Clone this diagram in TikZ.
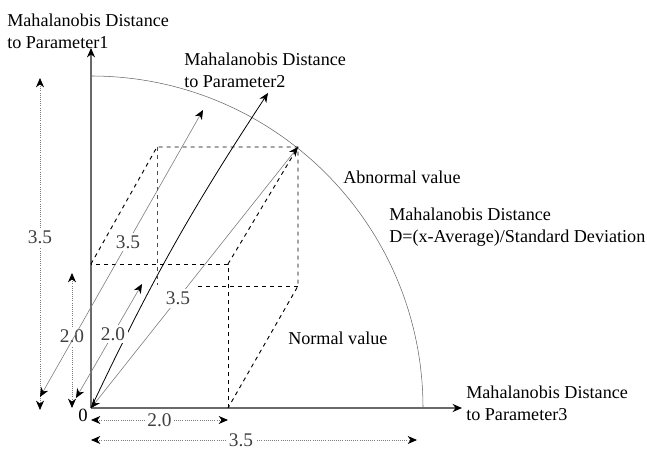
\documentclass[tikz,border=0pt]{standalone}
\usepackage{fontspec}
\setmainfont{Liberation Serif}
\usetikzlibrary{arrows.meta}
\definecolor{axisgray}{RGB}{105,105,105}
\definecolor{dimgray}{RGB}{125,125,125}

\begin{document}
\begin{tikzpicture}[x=0.75pt,y=0.75pt,
  font=\fontsize{13.6}{16.5}\selectfont,
  >={Stealth[length=7pt,width=6pt,inset=2.2pt]},
  axis/.style={line width=1.1pt,color=axisgray,->,>={Stealth[length=7pt,width=6pt,inset=2.2pt,color=black]}},
  boxedge/.style={dashed,line width=0.7pt},
  dimline/.style={densely dotted,color=dimgray,line width=0.6pt,<->,>={Stealth[length=7pt,width=6pt,inset=2.2pt,color=black]}},
  diagdim/.style={color=dimgray,line width=0.45pt,<->,>={Stealth[length=7pt,width=6pt,inset=2.2pt,color=black]}},
  dimlabel/.style={fill=white,inner sep=2pt,font=\fontsize{14.5}{16}\selectfont,text=black!75},
  lbl/.style={align=left,anchor=west,inner sep=0pt}]

\useasboundingbox (0,0) rectangle (647,450);

%%%%%%%%%% points
\coordinate (O) at (91,42);
\coordinate (P1) at (91,402);
\coordinate (P2) at (268,357);
\coordinate (P3) at (462,42);
\coordinate (arcT) at (91,374);
% box corners
\coordinate (fbr) at (228,42);
\coordinate (ftr) at (228,186);
\coordinate (ftl) at (91,186);
\coordinate (btl) at (157,303);
\coordinate (btr) at (298,303);
\coordinate (bbr) at (298,164);
\coordinate (bbl) at (157,165);
\coordinate (bbm) at (198,164);

%%%%%%%%%% axes and sphere
\draw[thin,black!60] (arcT) arc[start angle=90,end angle=0,radius=332];
\draw[axis] (O) -- (P1);
\draw[axis] (O) -- (P3);
\draw[line width=0.6pt,->] (O) to[bend left=4] (P2);
\node (zero) at (83,35) {\fontsize{14}{16}\selectfont 0};

%%%%%%%%%% normal value box
\draw[boxedge] (fbr) -- (ftr) -- (ftl);
\draw[boxedge] (ftl) -- (btl) -- (btr) -- (bbr) -- (fbr);
\draw[boxedge] (ftr) -- (btr);
\draw[boxedge,black!70] (btl) -- (bbl);
\draw[boxedge] (bbm) -- (bbr);

%%%%%%%%%% dimensions
\coordinate (x2a) at (91,30);   \coordinate (x2b) at (228,30);
\coordinate (x3a) at (91,10);   \coordinate (x3b) at (417,10);
\coordinate (y3a) at (40,372);  \coordinate (y3b) at (40,40);
\coordinate (y2a) at (72,177);  \coordinate (y2b) at (72,42);
\coordinate (d3a) at (40,53);   \coordinate (d3b) at (203,340);
\coordinate (d2a) at (76,52);   \coordinate (d2b) at (142,166);

\draw[dimline] (x2a) -- node[dimlabel] (lx2) {2.0} (x2b);
\draw[dimline] (x3a) -- node[dimlabel,pos=0.46] (lx3) {3.5} (x3b);
\draw[dimline] (y3a) -- node[dimlabel,pos=0.48] (ly3) {3.5} (y3b);
\draw[dimline] (y2a) -- node[dimlabel,pos=0.47] (ly2) {2.0} (y2b);
\draw[diagdim] (d3a) -- node[dimlabel,pos=0.54] (ld3) {3.5} (d3b);
\draw[diagdim] (d2a) -- node[dimlabel,pos=0.56] (ld2) {2.0} (d2b);
\draw[diagdim] (O) -- node[dimlabel,pos=0.42] (ldiag) {3.5} (btr);

%%%%%%%%%% texts
\node[lbl] (tP1) at (7,419) {Mahalanobis Distance\\to Parameter1};
\node[lbl] (tP2) at (184,380) {Mahalanobis Distance\\to Parameter2};
\node[lbl] (tP3) at (466,47) {Mahalanobis Distance\\to Parameter3};
\node[lbl] (tab) at (343,273) {Abnormal value};
\node[lbl] (tmd) at (389,223) {Mahalanobis Distance\\D=(x-Average)/Standard Deviation};
\node[lbl] (tno) at (288,112) {Normal value};

\end{tikzpicture}
\end{document}
